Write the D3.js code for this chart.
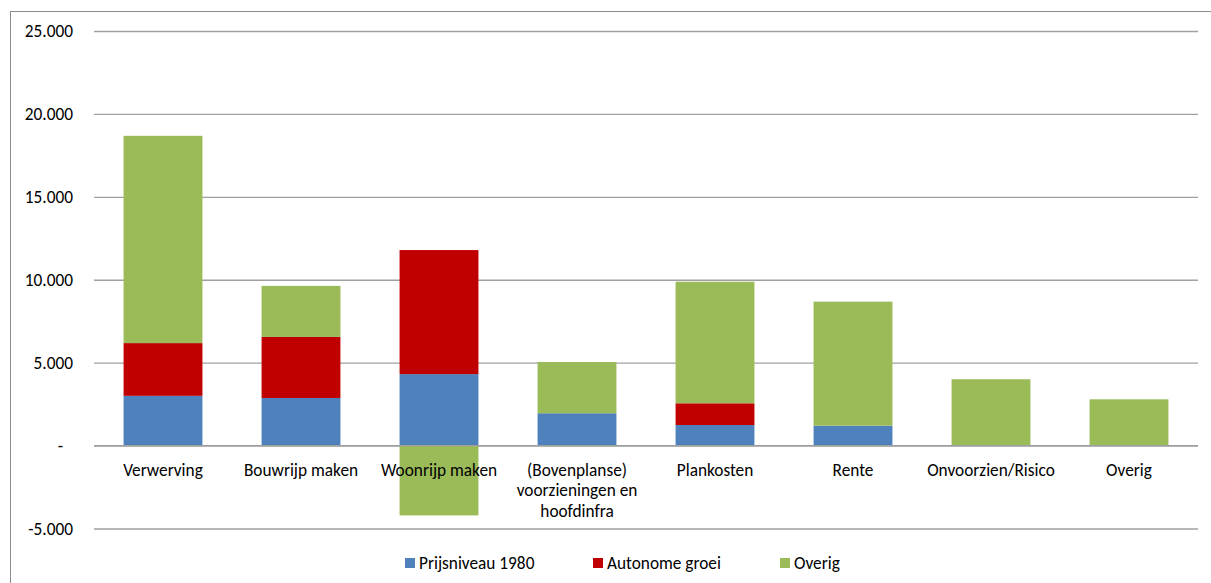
<!DOCTYPE html>
<html><head><meta charset="utf-8">
<script src="https://cdn.jsdelivr.net/npm/d3@7"></script>
<style>body{margin:0;background:#fff}svg{display:block;font-family:Carlito,Calibri,Lato,"Open Sans",sans-serif}</style>
</head><body><svg id="c" width="1211" height="583"></svg>
<script>
const categories = ["Verwerving","Bouwrijp maken","Woonrijp maken","(Bovenplanse) voorzieningen en hoofdinfra","Plankosten","Rente","Onvoorzien/Risico","Overig"];
const categoryLines = [["Verwerving"],["Bouwrijp maken"],["Woonrijp maken"],["(Bovenplanse)","voorzieningen en","hoofdinfra"],["Plankosten"],["Rente"],["Onvoorzien/Risico"],["Overig"]];
const seriesNames = ["Prijsniveau 1980","Autonome groei","Overig"];
const prijsniveau = [3000, 2870, 4310, 1950, 1240, 1200, 0, 0];
const autonomeGroei = [3180, 3680, 7480, 0, 1310, 0, 0, 0];
const overig = [12500, 3080, -4210, 3090, 7330, 7480, 4000, 2790];
const tickValues = [-5000, 0, 5000, 10000, 15000, 20000, 25000];
const colors = ["#4F81BD","#C00000","#9BBB59"];

const FS = "17.3px";
const svg = d3.select("#c");
const L = 94, R = 1198, T = 31, B = 528.5;
const x = d3.scaleBand().domain(categories).range([L, R]).paddingInner(0.75/1.75).paddingOuter(0.75/3.5);
const y = d3.scaleLinear().domain([-5000, 25000]).range([B, T]);

// outer border
svg.append("rect").attr("x",10.5).attr("y",11.5).attr("width",1250).attr("height",640)
  .attr("fill","none").attr("stroke","#8c8c8c").attr("stroke-width",1);

// gridlines
const yAxis = d3.axisLeft(y).tickValues(tickValues).tickSize(-(R-L)).tickPadding(21)
  .tickFormat(v => v === 0 ? "-" : (v < 0 ? "-" : "") + d3.format(",")(Math.abs(v)).replace(/,/g, "."));
const ga = svg.append("g").attr("transform", `translate(${L},0)`).call(yAxis);
ga.select(".domain").remove();
ga.selectAll(".tick line").attr("stroke","#a0a0a0").attr("stroke-width",1.3);
ga.selectAll(".tick text").attr("font-size",FS).attr("fill","#000").attr("font-family","Carlito,Calibri,Lato,sans-serif");
ga.selectAll(".tick").filter(d => d === 0).select("text").attr("dx", -10);

// stacks
const rows = categories.map((c,i) => ({cat:c, s0:prijsniveau[i], s1:autonomeGroei[i], s2:overig[i]}));
const stack = d3.stack().keys(["s0","s1","s2"]).offset(d3.stackOffsetDiverging);
const layers = stack(rows);
svg.append("g").selectAll("g").data(layers).join("g").attr("fill",(d,i)=>colors[i])
  .selectAll("rect").data(d=>d).join("rect")
  .attr("x", d => x(d.data.cat)).attr("width", x.bandwidth())
  .attr("y", d => y(Math.max(d[0],d[1]))).attr("height", d => Math.abs(y(d[0]) - y(d[1])));

// zero line over bars
svg.append("line").attr("x1",L).attr("x2",R).attr("y1",y(0)).attr("y2",y(0)).attr("stroke","#a0a0a0").attr("stroke-width",1.3);

// category labels
const xl = svg.append("g");
categories.forEach((c,i) => {
  const t = xl.append("text").attr("x", x(c) + x.bandwidth()/2).attr("y", y(0) + 30)
    .attr("text-anchor","middle").attr("font-size",FS).attr("fill","#000");
  categoryLines[i].forEach((ln,j) => t.append("tspan").attr("x", x(c)+x.bandwidth()/2).attr("dy", j===0?0:20.5).text(ln));
});

// legend
const legX = [405, 593, 780];
const lg = svg.append("g");
seriesNames.forEach((n,i) => {
  lg.append("rect").attr("x",legX[i]).attr("y",558).attr("width",10).attr("height",10).attr("fill",colors[i]);
  lg.append("text").attr("x",legX[i]+14).attr("y",569).attr("font-size",FS).attr("fill","#000").text(n);
});
</script></body></html>
